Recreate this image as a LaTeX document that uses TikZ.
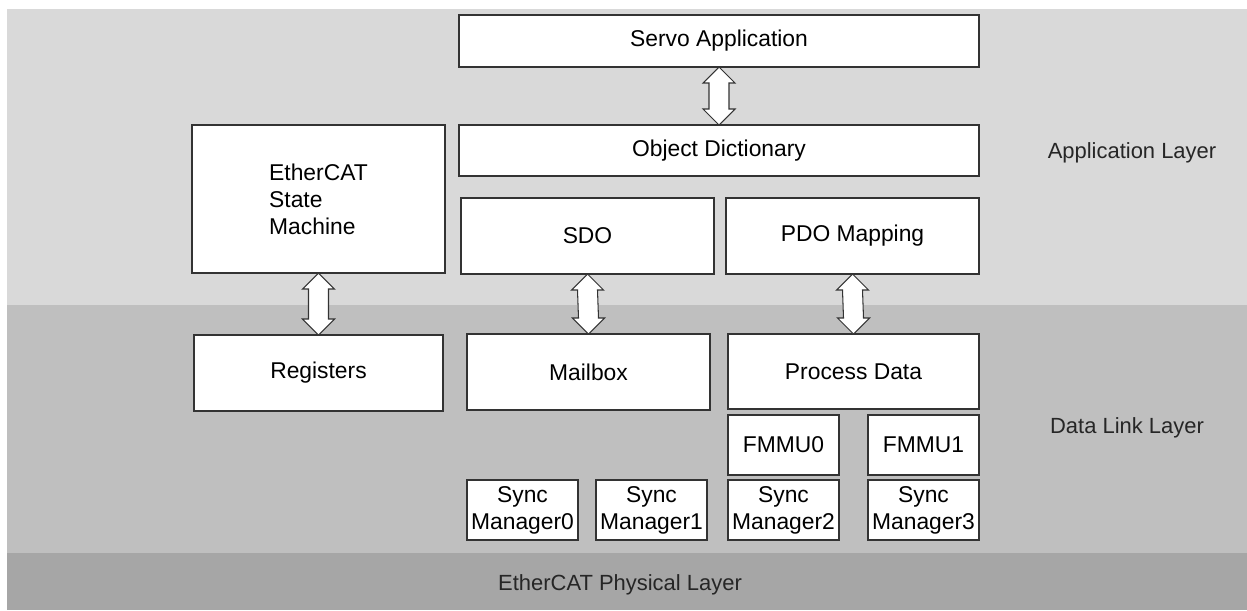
\documentclass[tikz,border=0pt]{standalone}
\usepackage{fontspec}
\setmainfont{Liberation Sans}
\usetikzlibrary{calc}

\definecolor{applayer}{RGB}{217,217,217}
\definecolor{dllayer}{RGB}{191,191,191}
\definecolor{phylayer}{RGB}{166,166,166}

\tikzset{
  box/.style 2 args={draw=black!80, line width=0.6pt, fill=white, outer sep=0pt, inner sep=1pt,
    minimum width=#1*0.02cm, minimum height=#2*0.02cm, font=\fontsize{13}{15.4}\selectfont},
  smbox/.style={box={111}{60}, align=center},
  layerlabel/.style={font=\fontsize{12.5}{15}\selectfont, text=black!85},
  blockarrow/.style={draw=black!80, line width=0.6pt, fill=white}
}

% hollow double arrow from the bottom of #1 to the top of #2
\newcommand{\dblarrow}[2]{%
  \draw[blockarrow] (#1.south) -- ++(16,16) -- ++(-6,0) -- ($(#2.north)+(10,-16)$) -- ++(6,0)
    -- (#2.north) -- ++(-16,-16) -- ++(6,0) -- ($(#1.south)+(-10,16)$) -- ++(-6,0) -- cycle;}

\begin{document}
\begin{tikzpicture}[x=0.02cm, y=-0.02cm]

  \useasboundingbox[fill=white] (0,0) rectangle (1247,610);

  % Layers
  \fill[applayer] (7,9) rectangle (1247,305);
  \fill[dllayer] (7,305) rectangle (1247,553);
  \fill[phylayer] (7,553) rectangle (1247,610);
  \node[layerlabel] (applbl) at (1132,153) {Application Layer};
  \node[layerlabel] (dllbl) at (1127,428) {Data Link Layer};
  \node[layerlabel] (phylbl) at (620,585) {EtherCAT Physical Layer};

  % Application layer
  \node[box={520}{52}] (servo) at (719,41) {Servo Application};
  \node[box={520}{51}] (objdict) at (719,150.5) {Object Dictionary};
  \node[box={253}{148}, align=left] (esm) at (318.5,199) {EtherCAT\\State\\Machine};
  \node[box={253}{76}] (sdo) at (587.5,236) {SDO};
  \node[box={253}{76}] (pdo) at (852.5,236) {PDO Mapping};

  % Data link layer
  \node[box={249}{76}] (reg) at (318.5,373) {Registers};
  \node[box={243}{76}] (mailbox) at (588.5,372) {Mailbox};
  \node[box={251}{75}] (procdata) at (853.5,371.5) {Process Data};
  \node[box={111}{60}] (fmmu0) at (783.5,445) {FMMU0};
  \node[box={111}{60}] (fmmu1) at (923.5,445) {FMMU1};
  \node[smbox] (sm0) at (522.5,510) {Sync\\Manager0};
  \node[smbox] (sm1) at (651.5,510) {Sync\\Manager1};
  \node[smbox] (sm2) at (783.5,510) {Sync\\Manager2};
  \node[smbox] (sm3) at (923.5,510) {Sync\\Manager3};

  % Arrows
  \dblarrow{servo}{objdict}
  \dblarrow{esm}{reg}
  \dblarrow{sdo}{mailbox}
  \dblarrow{pdo}{procdata}

\end{tikzpicture}
\end{document}
